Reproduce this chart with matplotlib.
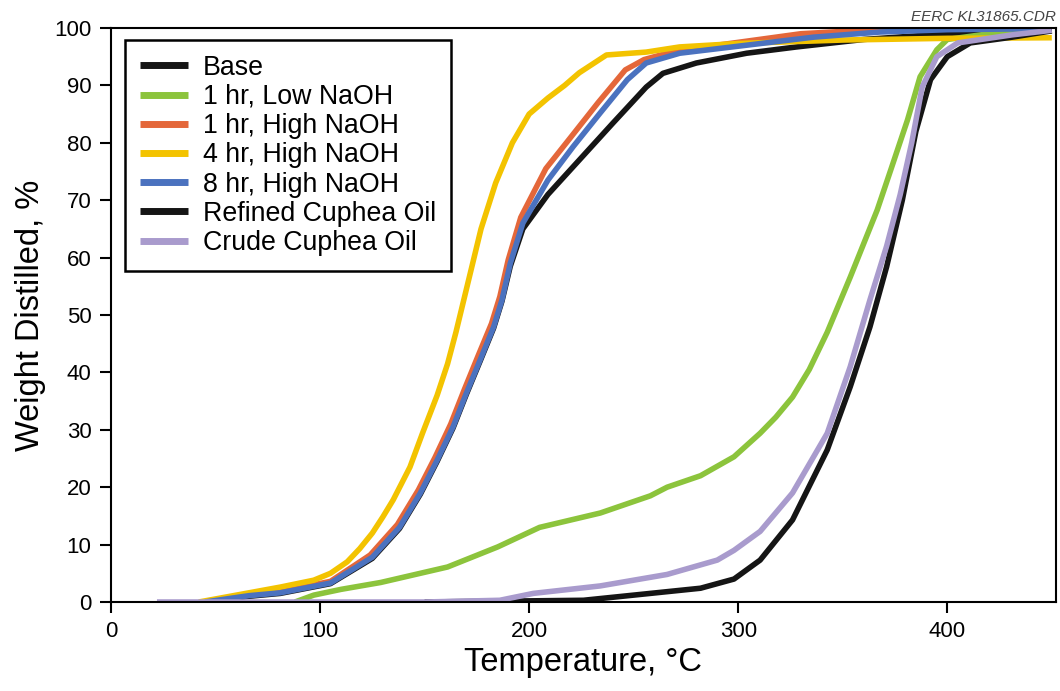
import matplotlib
matplotlib.use("Agg")
import matplotlib.pyplot as plt

plt.rcParams['font.family'] = ['Liberation Sans', 'DejaVu Sans']

# distillation curves: temperature (C) vs weight distilled (%)
base_t = [45, 66, 81, 105, 125, 138, 148, 156, 163.6, 170, 176.6, 183, 187, 191, 197, 209, 224, 240, 256, 264, 280, 304, 328, 360, 400, 430, 450]
base_w = [0, 1.0, 1.5, 3.2, 7.6, 12.8, 18.8, 24.5, 30.3, 36.2, 42, 47.7, 52.4, 58.5, 65, 71, 77, 83.4, 89.7, 92.1, 93.9, 95.6, 96.7, 98, 99, 99.5, 99.8]

low1_t = [88, 97, 110, 129, 161, 185, 205, 234, 258, 266, 282, 298, 310.5, 318, 326, 334, 342.6, 353.6, 366.5, 373, 381, 387, 395, 400, 420, 450]
low1_w = [0, 1.2, 2.2, 3.4, 6.1, 9.6, 13, 15.5, 18.5, 20, 22, 25.3, 29.4, 32.2, 35.7, 40.5, 47, 56.6, 68.3, 75.3, 84, 91.5, 96.2, 98, 99, 99.5]

high1_t = [45, 66, 81, 105, 124, 137, 147, 155, 162.5, 169, 175.5, 182, 186, 190, 196, 208, 220, 233, 246, 255, 270, 300, 330, 360, 400, 450]
high1_w = [0, 1.2, 1.8, 3.6, 8.2, 13.5, 19.5, 25.2, 31, 37, 42.8, 48.5, 53.2, 59.6, 67, 75.5, 81, 87, 92.7, 94.5, 96, 97.5, 99, 99.6, 99.9, 100]

high4_t = [42, 66, 81, 97, 105, 113, 119, 125, 130, 135, 143, 149, 156, 161, 165, 169, 173, 177, 184, 192, 200, 209, 217, 224, 237, 256, 272, 300, 350, 400, 450]
high4_w = [0, 1.6, 2.6, 3.8, 5.0, 7.0, 9.3, 12, 14.8, 17.8, 23.5, 29.4, 36, 41.5, 47, 53, 59, 65, 73, 80, 85, 87.8, 90, 92.2, 95.3, 95.8, 96.7, 97.3, 97.9, 98.2, 98.3]

high8_t = [45, 66, 81, 105, 125, 138, 148, 156, 163.6, 170, 176.6, 183, 187, 191, 197, 209, 221, 234, 247, 256, 272, 304, 336, 368, 400, 450]
high8_w = [0, 1.1, 1.6, 3.3, 7.8, 13, 19, 24.7, 30.5, 36.4, 42.2, 47.9, 52.6, 59, 66, 73.5, 79.3, 85.2, 91, 93.9, 95.6, 97, 98.4, 99.3, 99.7, 99.9]

refined_t = [150, 226, 242, 274, 282, 298, 310.5, 326, 342.6, 353.6, 363, 371, 378.5, 385, 392, 400, 411, 431, 450]
refined_w = [0, 0.3, 0.9, 2.1, 2.4, 4, 7.3, 14.3, 26.5, 37.5, 47.9, 58.4, 70, 82, 91, 95, 97.4, 98.4, 99.5]

crude_t = [22, 150, 186, 202, 234, 266, 290, 298, 310.5, 326, 342.6, 353.6, 363, 371, 377.5, 383, 388, 395, 405, 431, 450]
crude_w = [0, 0, 0.3, 1.5, 2.8, 4.8, 7.3, 9.0, 12.3, 19, 29.4, 41, 52.6, 62, 71, 80, 89.7, 95, 97.4, 98.8, 99.6]

series = [
    ("Base", base_t, base_w, "#151515"),
    ("1 hr, Low NaOH", low1_t, low1_w, "#8cc43c"),
    ("1 hr, High NaOH", high1_t, high1_w, "#e4673a"),
    ("4 hr, High NaOH", high4_t, high4_w, "#f3c300"),
    ("8 hr, High NaOH", high8_t, high8_w, "#4b72bf"),
    ("Refined Cuphea Oil", refined_t, refined_w, "#151515"),
    ("Crude Cuphea Oil", crude_t, crude_w, "#a99bcd"),
]

fig = plt.figure(figsize=(10.6, 6.91), dpi=100)
ax = fig.add_axes([0.1047, 0.1288, 0.8915, 0.8307])

for name, t, w, c in series:
    ax.plot(t, w, color=c, lw=4, label=name, solid_capstyle='butt')

ax.set_xlim(0, 452)
ax.set_ylim(0, 100)
ax.set_xticks([0, 100, 200, 300, 400])
ax.set_yticks(range(0, 101, 10))
ax.tick_params(direction='out', length=8, width=1.5, labelsize=16, pad=6)
for s in ax.spines.values():
    s.set_linewidth(1.5)

ax.set_xlabel("Temperature, \u00b0C", fontsize=23.5, labelpad=3)
ax.set_ylabel("Weight Distilled, %", fontsize=23.5, labelpad=6)

leg = ax.legend(loc='upper left', bbox_to_anchor=(0.0148, 0.979), borderaxespad=0,
                fontsize=19.3, handlelength=1.8, handletextpad=0.55, labelspacing=0.12,
                fancybox=False, framealpha=1, edgecolor='black', borderpad=0.55)
leg.get_frame().set_linewidth(1.8)
for h in leg.get_lines():
    h.set_linewidth(5)

fig.text(0.996, 0.985, "EERC KL31865.CDR", ha='right', va='top', fontsize=11,
         style='italic', color='#444444')

fig.savefig("out.png", dpi=100)
